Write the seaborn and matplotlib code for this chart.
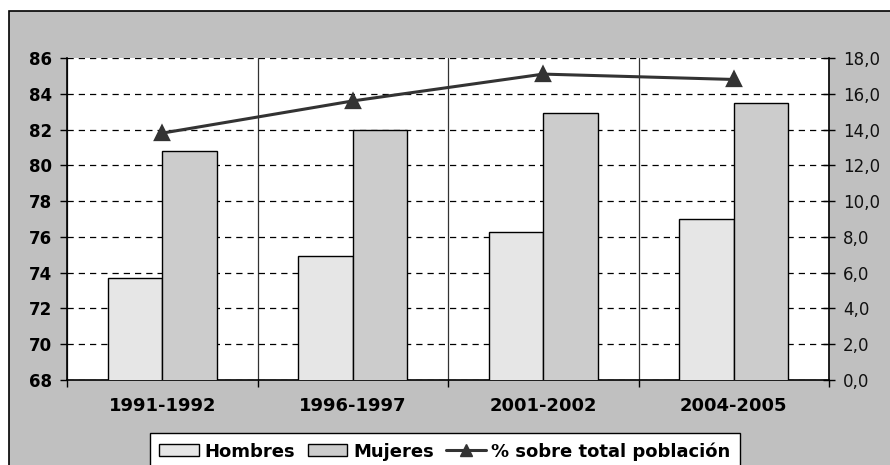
import numpy as np
import pandas as pd
import matplotlib
matplotlib.use("Agg")
import matplotlib.pyplot as plt
from matplotlib.patches import Rectangle, Patch
from matplotlib.lines import Line2D
from matplotlib.ticker import FuncFormatter
import seaborn as sns

periodos = ["1991-1992", "1996-1997", "2001-2002", "2004-2005"]
hombres = [73.7, 74.95, 76.3, 77.0]
mujeres = [80.8, 82.0, 82.95, 83.5]
pct_total = [13.8, 15.6, 17.1, 16.8]
series = ["Hombres", "Mujeres"]
linea_label = "% sobre total población"

df = pd.DataFrame({
    "periodo": periodos * 2,
    "valor": hombres + mujeres,
    "serie": [series[0]] * 4 + [series[1]] * 4,
})
df_line = pd.DataFrame({"periodo": periodos, "pct": pct_total})

sns.set_theme(style="white")
plt.rcParams["font.family"] = ["DejaVu Sans"]
plt.rcParams["text.color"] = "black"

fig = plt.figure(figsize=(8.9, 4.65), dpi=100)
fig.patch.set_facecolor("white")
bg = Rectangle((9 / 890, -0.1), 1.2, 1 - 11 / 465 + 0.1,
               transform=fig.transFigure, facecolor="#C0C0C0",
               edgecolor="black", linewidth=1.2, zorder=-10)
fig.add_artist(bg)

ax = fig.add_axes([67 / 890, 1 - 380 / 465, (829 - 67) / 890, (380 - 58) / 465])
ax.set_facecolor("white")
c_h, c_m = "#E6E6E6", "#CCCCCC"
sns.barplot(data=df, x="periodo", y="valor", hue="serie", palette=[c_h, c_m],
            edgecolor="black", linewidth=1.0, width=0.574, gap=0, ax=ax,
            legend=False, zorder=3)
ax.set_ylim(68, 86)
ax.set_xlim(-0.5, 3.5)
ax.set_yticks(np.arange(68, 87, 2))
ax.set_xlabel("")
ax.set_ylabel("")

ax.grid(False)
ax.yaxis.grid(True, color="black", linestyle=(0, (5, 4)), linewidth=0.9, zorder=1)
ax.set_xticks([-0.5, 0.5, 1.5, 2.5, 3.5], minor=True)
ax.xaxis.grid(True, which="minor", color="#333333", linestyle="-", linewidth=0.9, zorder=1)
ax.set_axisbelow(True)

ax.tick_params(axis="x", which="major", length=0, pad=12, labelsize=13)
ax.tick_params(axis="x", which="minor", length=5, width=1, color="black", direction="out", bottom=True)
ax.tick_params(axis="y", length=5, width=1, color="black", direction="out", pad=6, labelsize=12, left=True)
for lbl in ax.get_xticklabels() + ax.get_yticklabels():
    lbl.set_fontweight("bold")
    lbl.set_color("black")

for s in ["left", "bottom"]:
    ax.spines[s].set_visible(True)
    ax.spines[s].set_color("black")
    ax.spines[s].set_linewidth(1.2)
ax.spines["top"].set_visible(False)
ax.spines["right"].set_visible(False)

ax2 = ax.twinx()
sns.pointplot(data=df_line, x="periodo", y="pct", color="#333333", markers="^",
              linestyles="-", ax=ax2, markersize=10, linewidth=2.2)
ax2.set_ylim(0, 18)
ax2.set_xlim(-0.5, 3.5)
ax2.set_yticks(np.arange(0, 19, 2))
ax2.yaxis.set_major_formatter(FuncFormatter(lambda v, p: f"{v:.1f}".replace(".", ",")))
ax2.set_ylabel("")
ax2.set_xlabel("")
ax2.grid(False)
ax2.tick_params(axis="y", length=8, width=1, color="black", direction="inout", pad=6,
                labelsize=12, right=True)
for lbl in ax2.get_yticklabels():
    lbl.set_color("#111111")
for s in ["left", "top", "bottom"]:
    ax2.spines[s].set_visible(False)
ax2.spines["right"].set_visible(True)
ax2.spines["right"].set_color("black")
ax2.spines["right"].set_linewidth(1.2)

handles = [
    Patch(facecolor=c_h, edgecolor="black", linewidth=1.0),
    Patch(facecolor=c_m, edgecolor="black", linewidth=1.0),
    Line2D([0], [0], color="#333333", linewidth=2.2, marker="^", markersize=9),
]
leg = fig.legend(handles, series + [linea_label], loc="upper center",
                 bbox_to_anchor=(445 / 890, 1 - 433 / 465), ncol=3, frameon=True,
                 fancybox=False, edgecolor="black", facecolor="white",
                 prop={"weight": "bold", "size": 13}, handlelength=2.2,
                 handleheight=0.6, handletextpad=0.3, columnspacing=0.7,
                 borderpad=0.5, borderaxespad=0)
leg.get_frame().set_linewidth(1.0)
leg.get_frame().set_alpha(1)
for t in leg.get_texts():
    t.set_color("black")

fig.savefig("out.png", dpi=100)
